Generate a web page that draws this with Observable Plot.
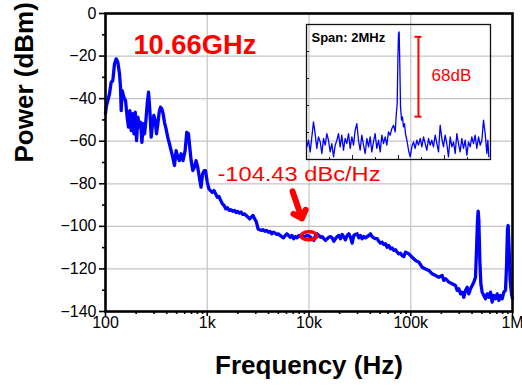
<!DOCTYPE html>
<html><head><meta charset="utf-8">
<script src="https://cdn.jsdelivr.net/npm/d3@7"></script>
<script src="https://cdn.jsdelivr.net/npm/@observablehq/plot@0.6"></script>
<style>
html,body{margin:0;padding:0;background:#fff;}
#wrap{position:relative;width:522px;height:386px;overflow:hidden;}
#wrap svg{position:absolute;left:0;top:0;}
</style></head><body><div id="wrap"></div>
<script>
// ---------- main phase-noise trace ----------
const freqHz = [
  100, 101.5, 105.4, 109.5, 113.7, 118.0, 122.6, 127.3, 132.2, 137.3, 140.4,
  142.6, 145.8, 151.4, 157.3, 163.3, 168.3, 173.6, 178.9, 184.5, 190.2,
  196.1, 202.0, 208.3, 214.7, 221.2, 228.1, 235.1, 242.0, 249.5, 257.1,
  264.8, 272.9, 281.4, 289.8, 298.8, 308.0, 317.2, 327.0, 337.0, 347.1,
  357.8, 368.7, 379.7, 393.9, 408.7, 424.9, 441.3, 458.0, 476.1, 494.3,
  513.1, 532.4, 552.6, 577.5, 606.4, 629.0, 653.0, 673.3, 694.4, 720.9,
  748.0, 776.5, 805.9, 836.3, 868.5, 900.9, 935.2,
  961, 1000, 1039, 1077, 1120, 1163, 1209, 1256, 1306, 1357,
  1410, 1465, 1522, 1582, 1644, 1709, 1776, 1845, 1918, 1993,
  2071, 2152, 2236, 2324, 2415, 2510, 2608, 2710, 2816, 2927,
  3041, 3160, 3284, 3413, 3546, 3685, 3830, 3980, 4135, 4297,
  4466, 4641, 4822, 5011, 5207, 5411, 5623, 5843, 6072, 6309,
  6557, 6813, 7080, 7357, 7645, 7945, 8256, 8579, 8915, 9627, 10000,
  10345, 10743, 11155, 11584, 12029, 12491, 12971, 13469, 13987, 14524,
  15082, 15661, 16263, 16888, 17537, 18210, 18910, 19636, 20390, 21173,
  21987, 22831, 23708, 24619, 25564, 26546, 27566, 28624, 29724, 30866,
  32051, 33282, 34561, 35888, 37267, 38698, 40185, 41728, 43331, 44995,
  46723, 48518, 50381, 52316, 54326, 56412, 58579, 60829, 63165, 65591,
  68110, 70726, 73443, 76263, 79192, 82234, 85392,
  88790, 95750, 103260, 111360, 120100, 129500, 139640, 150590, 162400, 175120,
  188860, 203660, 211460, 219600, 236700, 255300, 275300, 285900, 296900, 308300,
  320200, 332400, 345200, 358500, 372300, 386600, 401500, 416900, 432900, 442800,
  453000, 459900, 466800, 477500, 488400, 503400, 522600, 542700, 563700, 585300,
  607900, 631300, 655500, 680800, 707000, 734000, 762300, 791600, 821900, 853500,
  873100, 893100, 906700, 927400, 948600, 977700, 1000000
];
const powerDbm = [
  -47, -44, -40.9, -37.7, -32.3, -31.5, -23.6, -21.3, -22.9, -28.3, -34.6,
  -45.6, -36.2, -39.3, -40.9, -48.7, -53.4, -45.6, -55, -47.1, -56.5,
  -46.4, -59.7, -48.7, -53.4, -51.1, -60.5, -51.8, -56.5, -50.3, -42.4,
  -37, -45.6, -58.1, -51.8, -47.9, -50.3, -56.5, -51.8, -46.4, -44,
  -44.8, -47.1, -51.1, -54.2, -58.1, -61.2, -64.4, -67.5, -71.4, -64.4,
  -67.5, -69.1, -65.9, -69.1, -64.4, -55.8, -56.5, -62.8, -69.1, -73.8,
  -72.2, -69.1, -72.2, -76.9, -81.6, -75.3, -73.8,
  -73.8, -79.2, -82.4, -83.2, -84, -83.2, -84.7, -86.3, -86, -87.9,
  -89.4, -90.2, -91.8, -91.3, -92.5, -92.2, -92.9, -92.5, -93.5, -93,
  -93.8, -93.3, -94.4, -94.1, -94.9, -95.7, -96.5, -95.7, -94.9, -96.5,
  -98, -101.2, -101.6, -101.9, -101.6, -102.3, -101.9, -102.7, -102.4, -103.5,
  -102.7, -103.2, -103.8, -103.5, -104.3, -104.8, -105.4, -104.3, -103.5, -104.3,
  -105.1, -104.3, -105.8, -104.8, -105.4, -104.3, -104.8, -104.3, -104.8, -104.4, -104.43,
  -105.1, -105.8, -106.6, -104.3, -103.5, -104.3, -105.1, -104.8, -105.8, -106.6,
  -105.8, -105.1, -104.8, -105.4, -107, -105.8, -104.8, -104.3, -105.8, -103.8,
  -105.1, -106.3, -104.3, -103.5, -105.1, -107.9, -104.3, -103.8, -103.5, -105.4,
  -104.3, -105.8, -104.8, -105.4, -104.8, -104.3, -103.5, -104.8, -105.4, -105.8,
  -105.8, -107, -107.9, -107.5, -108.5, -108.2, -109.8, -109, -110.5, -110.1,
  -111.3, -111, -112.1, -112.9, -112.6, -113.7, -114.2,
  -112.1, -112.9, -114.5, -116, -116.8, -119.2, -120, -120.7, -122.3, -123.1,
  -123.9, -123.1, -125.4, -124.6, -126.2, -127, -127.8, -130.1, -129.3, -131.7,
  -130.9, -133.3, -130.1, -128.6, -131.7, -129.3, -127.8, -126.2, -123.9, -111.3,
  -97.2, -92.9, -97.2, -116, -127, -130.9, -132.5, -134, -131.7, -133.3,
  -130.9, -135.6, -132.5, -134, -131.7, -134.8, -132.5, -134, -130.9, -130.1,
  -119.2, -101.2, -99.6, -111.3, -125.4, -131.7, -134
];

// ---------- inset spectrum (span 2 MHz) ----------
const insetOffsetKHz = [
  -996, -978, -960, -942, -924, -906, -888, -870, -851, -833, -815, -797, -779, -761,
  -743, -725, -706, -688, -670, -652, -634, -616, -598, -580, -562, -543, -525, -507,
  -489, -471, -453, -435, -417, -399, -380, -362, -344, -326, -308, -290, -272, -254,
  -236, -217, -199, -181, -163, -145, -127, -109, -91, -72, -54, -36, -25, -14, -7,
  0, 7, 14, 22, 33, 43, 54, 65, 76, 91, 109, 127, 145, 163, 181, 199, 217, 236, 254,
  272, 290, 308, 326, 344, 362, 380, 399, 417, 435, 453, 471, 489, 507, 525, 543, 562,
  580, 598, 616, 634, 652, 670, 688, 706, 725, 743, 761, 779, 797, 815, 833, 851, 870,
  888, 906, 924, 942, 960, 971, 982
];
const insetLevelDb = [
  -104.2, -98.6, -108.5, -95.7, -82.9, -92.9, -105.6, -95.7, -100, -109.9, -97.1, -102.8, -92.9, -98.6,
  -108.5, -101.4, -112.7, -102.8, -98.6, -92.9, -104.2, -94.3, -107.1, -97.1, -101.4, -92.9, -105.6, -95.7,
  -102.8, -90, -84.4, -98.6, -107.1, -94.3, -102.8, -109.9, -97.1, -104.2, -95.7, -108.5, -100, -92.9,
  -105.6, -98.6, -108.5, -94.3, -101.4, -95.7, -102.8, -91.5, -94.3, -88.6, -85.8, -91.5, -77.3, -67.3, -30.4,
  -7.7, -6.3, -33.3, -70.2, -81.5, -78.7, -87.2, -84.4, -92.9, -98.6, -107.1, -112.7, -104.2, -100, -105.6, -98.6, -102.8, -97.1, -104.2,
  -95.7, -101.4, -107.1, -97.1, -102.8, -98.6, -104.2, -94.3, -101.4, -108.5, -85.8, -97.1, -104.2, -94.3, -101.4, -112.7, -95.7,
  -104.2, -100, -109.9, -92.9, -101.4, -108.5, -97.1, -105.6, -98.6, -111.3, -100, -104.2, -95.7, -101.4, -94.3, -105.6, -95.7,
  -102.8, -98.6, -81.5, -92.9, -109.9, -98.6, -112.7
];

// ---------- axes / annotations ----------
const xTickValues = [100, 1000, 10000, 100000, 1000000];
const xTickLabels = ["100", "1k", "10k", "100k", "1M"];
const xMinorTicks = [200,300,400,500,600,700,800,900,2000,3000,4000,5000,6000,7000,8000,9000,
  20000,30000,40000,50000,60000,70000,80000,90000,200000,300000,400000,500000,600000,700000,800000,900000];
const yTickValues = [0, -20, -40, -60, -80, -100, -120, -140];
const yMinorTicks = [-10, -30, -50, -70, -90, -110, -130];
const xLabel = "Frequency (Hz)";
const yLabel = "Power (dBm)";
const carrierText = "10.66GHz";
const noiseText = "-104.43 dBc/Hz";
const noisePoint = {f: 10000, p: -104.43};
const spanText = "Span: 2MHz";
const ratioText = "68dB";
const ratioBar = {offsetKHz: 217, top: -10.5, bottom: -78.5};
const insetYTicks = [-23, -46, -69, -92];
const insetXMajor = [-500, 0, 500];
const insetXMinor = [-750, -250, 250, 750];

const FONT = "'Liberation Sans', Arial, Helvetica, sans-serif";
const BLUE = "#0000ff", RED = "#ff0000";

const mainData = freqHz.map((f, i) => ({f, p: powerDbm[i]}));
const insetData = insetOffsetKHz.map((k, i) => ({k, db: insetLevelDb[i]}));

const ellipse = {
  draw(ctx, size) {
    const rx = Math.sqrt(size / Math.PI), ry = rx * 0.5, k = 0.5523;
    ctx.moveTo(rx, 0);
    ctx.bezierCurveTo(rx, ry * k, rx * k, ry, 0, ry);
    ctx.bezierCurveTo(-rx * k, ry, -rx, ry * k, -rx, 0);
    ctx.bezierCurveTo(-rx, -ry * k, -rx * k, -ry, 0, -ry);
    ctx.bezierCurveTo(rx * k, -ry, rx, -ry * k, rx, 0);
    ctx.closePath();
  }
};

const main = Plot.plot({
  width: 522, height: 386,
  marginLeft: 105, marginRight: 10, marginTop: 13, marginBottom: 75,
  style: {fontFamily: FONT, background: "transparent", color: "black"},
  x: {type: "log", domain: [100, 1e6]},
  y: {domain: [-140, 0]},
  marks: [
    Plot.gridX({ticks: [1000, 10000, 100000], stroke: "#c4c4c4", strokeOpacity: 1, strokeWidth: 1.2}),
    Plot.gridY({ticks: [-20, -40, -60, -80, -100, -120], stroke: "#c4c4c4", strokeOpacity: 1, strokeWidth: 1.2}),
    Plot.line(mainData, {x: "f", y: "p", stroke: BLUE, strokeWidth: 3.3, strokeLinejoin: "round"}),
    Plot.axisX({ticks: xMinorTicks, tickSize: 3, strokeWidth: 1.6, tickFormat: () => "", label: null}),
    Plot.axisX({ticks: xTickValues, tickSize: 5, tickPadding: 0, strokeWidth: 1.6,
      tickFormat: d => xTickLabels[xTickValues.indexOf(d)], fontSize: 16, label: null}),
    Plot.axisY({ticks: yMinorTicks, tickSize: 3, strokeWidth: 1.6, tickFormat: () => "", label: null}),
    Plot.axisY({ticks: yTickValues, tickSize: 6, tickPadding: 3, strokeWidth: 1.6, fontSize: 16, label: null}),
    Plot.frame({stroke: "black", strokeWidth: 2.6}),
    Plot.text([xLabel], {text: d => d, frameAnchor: "bottom", dy: 62, lineAnchor: "bottom",
      fontSize: 26, fontWeight: "bold", fill: "black"}),
    Plot.text([yLabel], {text: d => d, frameAnchor: "left", dx: -73, rotate: -90, lineAnchor: "bottom",
      fontSize: 26, fontWeight: "bold", fill: "black"}),
    Plot.text([carrierText], {text: d => d, x: () => 188, y: () => -18.8, textAnchor: "start",
      lineAnchor: "bottom", fontSize: 28, fontWeight: "bold", fill: RED}),
    Plot.text([noiseText], {text: d => d, x: () => 1260, y: () => -78.5, textAnchor: "start",
      lineAnchor: "bottom", fontSize: 20, fill: RED}),
    Plot.arrow([noisePoint], {x1: () => 6900, y1: () => -83.6, x2: () => 8500, y2: () => -96.3,
      stroke: RED, strokeWidth: 6, headAngle: 85, headLength: 9}),
    Plot.dot([noisePoint], {x: "f", y: "p", r: 8, symbol: ellipse, stroke: RED, strokeWidth: 3.4, fill: "none"})
  ]
});
main.style.left = "0px"; main.style.top = "0px";

const inset = Plot.plot({
  width: 184, height: 135, margin: 0,
  style: {fontFamily: FONT, background: "transparent", overflow: "visible"},
  x: {domain: [-1000, 1000], axis: null},
  y: {domain: [-115, 0], axis: null},
  marks: [
    Plot.line(insetData, {x: "k", y: "db", stroke: BLUE, strokeWidth: 1.3, clip: true}),
    Plot.tickY(insetYTicks, {y: d => d, insetRight: 181, stroke: "#222", strokeWidth: 1}),
    Plot.tickX(insetXMajor, {x: d => d, insetTop: 131, stroke: "#222", strokeWidth: 1}),
    Plot.tickX(insetXMinor, {x: d => d, insetTop: 133, stroke: "#222", strokeWidth: 1}),
    Plot.frame({stroke: "#111", strokeWidth: 1.3}),
    Plot.ruleX([ratioBar], {x: "offsetKHz", y1: "top", y2: "bottom", stroke: RED, strokeWidth: 2}),
    Plot.ruleY([ratioBar.top, ratioBar.bottom], {y: d => d, x1: ratioBar.offsetKHz - 38, x2: ratioBar.offsetKHz + 38, stroke: RED, strokeWidth: 2}),
    Plot.text([ratioText], {text: d => d, x: () => 359, y: () => -43.4, textAnchor: "start",
      lineAnchor: "middle", fontSize: 17, fill: RED}),
    Plot.text([spanText], {text: d => d, x: () => -946, y: () => -11, textAnchor: "start",
      lineAnchor: "middle", fontSize: 13, fontWeight: "bold", fill: "black"})
  ]
});
inset.style.left = "306px"; inset.style.top = "24px";

const wrap = document.getElementById("wrap");
wrap.appendChild(main);
wrap.appendChild(inset);

// stretch annotation text to the reference widths
function fitText(svg, content, width) {
  svg.querySelectorAll("text").forEach(t => {
    if (t.textContent === content) {
      t.setAttribute("textLength", width);
      t.setAttribute("lengthAdjust", "spacingAndGlyphs");
    }
  });
}
fitText(main, noiseText, 163);
fitText(main, carrierText, 123);
</script></body></html>
